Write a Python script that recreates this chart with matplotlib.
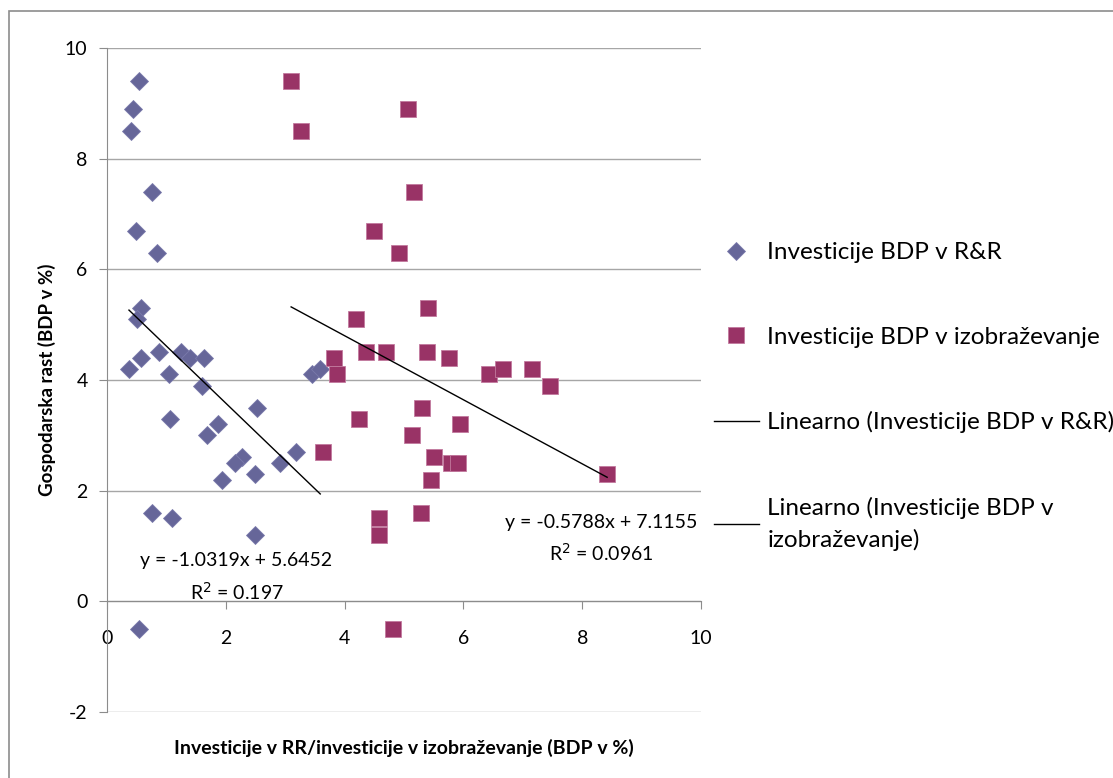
import numpy as np
import matplotlib
matplotlib.use('Agg')
import matplotlib.pyplot as plt
from matplotlib.patches import Rectangle

plt.rcParams['font.family'] = ['Lato', 'DejaVu Sans']
plt.rcParams['axes.unicode_minus'] = False

# R&R investment (% of GDP) vs growth
rr_x = [0.54, 0.43, 0.40, 0.76, 0.48, 0.85, 0.57, 0.51, 0.37, 0.57, 0.87, 1.04,
        1.25, 1.39, 1.63, 1.60, 2.53, 1.06, 1.87, 1.69, 3.18, 2.27, 2.15, 2.91,
        1.93, 2.49, 0.76, 1.09, 2.49, 0.54, 3.45, 3.59]
rr_y = [9.4, 8.9, 8.5, 7.4, 6.7, 6.3, 5.3, 5.1, 4.2, 4.4, 4.5, 4.1,
        4.5, 4.4, 4.4, 3.9, 3.5, 3.3, 3.2, 3.0, 2.7, 2.6, 2.5, 2.5,
        2.2, 2.3, 1.6, 1.5, 1.2, -0.5, 4.1, 4.2]

# education investment (% of GDP) vs growth
edu_x = [3.10, 3.27, 5.06, 5.17, 4.50, 4.92, 5.40, 4.19, 4.36, 4.69, 5.39, 5.76,
         3.82, 3.88, 6.43, 6.67, 7.15, 7.46, 5.31, 4.25, 5.95, 5.14, 5.51, 5.79,
         5.91, 5.45, 8.42, 5.28, 4.58, 4.58, 4.81, 3.63]
edu_y = [9.4, 8.5, 8.9, 7.4, 6.7, 6.3, 5.3, 5.1, 4.5, 4.5, 4.5, 4.4,
         4.4, 4.1, 4.1, 4.2, 4.2, 3.9, 3.5, 3.3, 3.2, 3.0, 2.6, 2.5,
         2.5, 2.2, 2.3, 1.6, 1.5, 1.2, -0.5, 2.7]

# trendline coefficients as printed on the chart
rr_slope, rr_icpt, rr_r2 = -1.0319, 5.6452, 0.197
edu_slope, edu_icpt, edu_r2 = -0.5788, 7.1155, 0.0961

fig = plt.figure(figsize=(11.13, 7.78), dpi=100)

# chart area border (only top/left visible in the crop)
fig.patches.append(Rectangle((9 / 1113, -0.2), 1.2, 1.2 - 11 / 778,
                             transform=fig.transFigure, fill=False,
                             edgecolor='#8c8c8c', linewidth=1.2))

ax = fig.add_axes([107 / 1113, 1 - 712 / 778, 594 / 1113, 664 / 778])
ax.set_xlim(0, 10)
ax.set_ylim(-2, 10)
ax.set_xticks([0, 2, 4, 6, 8, 10])
ax.set_yticks([-2, 0, 2, 4, 6, 8, 10])

ax.yaxis.grid(True, color='#a6a6a6', linewidth=1)
ax.set_axisbelow(True)
for s in ['top', 'right']:
    ax.spines[s].set_visible(False)
ax.spines['bottom'].set_position(('data', 0))
ax.spines['bottom'].set_color('#8c8c8c')
ax.spines['left'].set_color('#8c8c8c')
ax.tick_params(axis='both', direction='out', length=6, color='#8c8c8c',
               labelsize=14, labelcolor='black')
ax.tick_params(axis='x', pad=15)
ax.tick_params(axis='y', pad=8)

h1, = ax.plot(rr_x, rr_y, 'D', ms=9.5, color='#666699', mec='#7a7aab', mew=0.6,
              linestyle='none', label='Investicije BDP v R&R', zorder=3)
h2, = ax.plot(edu_x, edu_y, 's', ms=12, color='#993366', mec='#c27a9e', mew=0.6,
              linestyle='none', label='Investicije BDP v izobraževanje', zorder=3)

xr = np.array([min(rr_x), max(rr_x)])
h3, = ax.plot(xr, rr_slope * xr + rr_icpt, color='black', linewidth=1,
              label='Linearno (Investicije BDP v R&R)', zorder=4)
xe = np.array([min(edu_x), max(edu_x)])
h4, = ax.plot(xe, edu_slope * xe + edu_icpt, color='black', linewidth=1,
              label='Linearno (Investicije BDP v\nizobraževanje)', zorder=4)

ax.text(2.18, 0.73, f'y = {rr_slope}x + {rr_icpt}', ha='center', va='center', fontsize=14)
ax.text(2.18, 0.17, f'R$^2$ = {rr_r2}', ha='center', va='center', fontsize=14)
ax.text(8.32, 1.43, f'y = {edu_slope}x + {edu_icpt}', ha='center', va='center', fontsize=14)
ax.text(8.32, 0.87, f'R$^2$ = {edu_r2}', ha='center', va='center', fontsize=14)

fig.text(404 / 1113, 1 - 748 / 778, 'Investicije v RR/investicije v izobraževanje (BDP v %)',
         ha='center', va='center', fontsize=14, fontweight='bold')
fig.text(47 / 1113, 1 - 380 / 778, 'Gospodarska rast (BDP v %)', rotation=90,
         ha='center', va='center', fontsize=13.5, fontweight='bold')

leg = fig.legend(handles=[h1, h2, h3, h4], loc='upper left',
                 bbox_to_anchor=(714 / 1113, 1 - 242 / 778), frameon=False,
                 fontsize=17.5, borderpad=0, borderaxespad=0, handlelength=1.85,
                 handletextpad=0.35, labelspacing=2.62)
for t in leg.get_texts():
    t.set_linespacing(1.55)

fig.savefig('out.png', dpi=100)
